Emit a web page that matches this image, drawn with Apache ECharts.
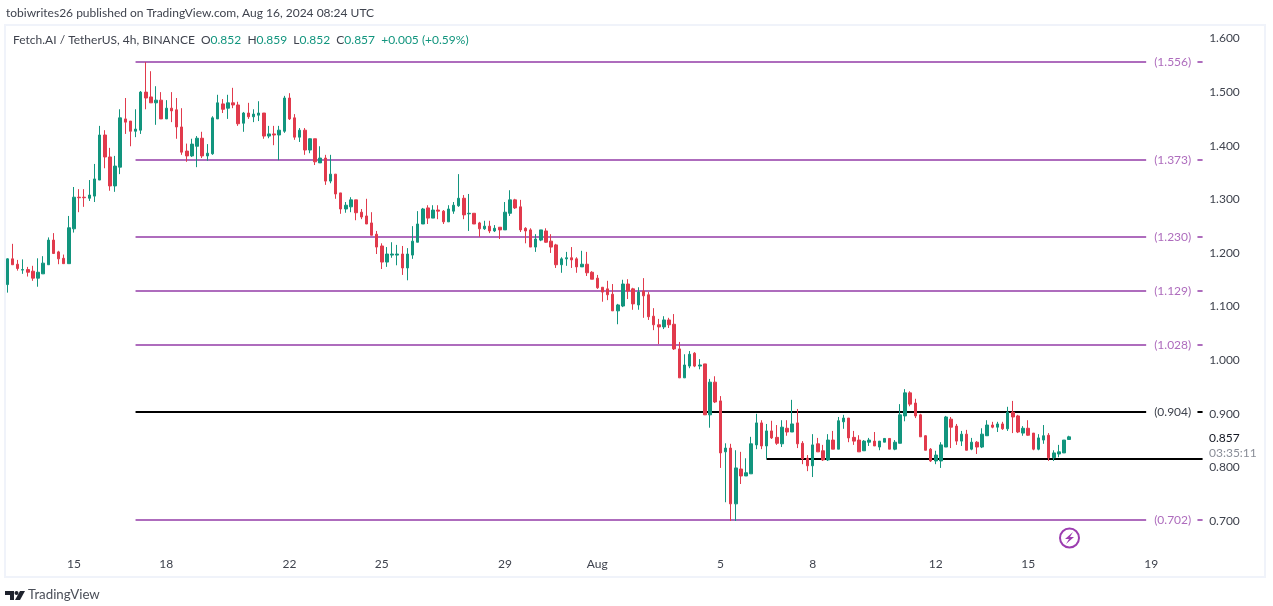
<!DOCTYPE html>
<html>
<head>
<meta charset="utf-8">
<title>FET/USDT 4h</title>
<script src="https://cdn.jsdelivr.net/npm/echarts@6/dist/echarts.min.js"></script>
<style>
  html, body { margin: 0; padding: 0; background: #fff; }
  #chart { width: 1273px; height: 606px; }
</style>
</head>
<body>
<div id="chart"></div>
<script>
// 4h candles
var openPrices = [
  1.141,1.189,1.179,1.168,1.169,1.166,1.153,1.161,1.178,1.224,
  1.202,1.190,1.180,1.245,1.304,1.304,1.302,1.306,1.336,1.420,
  1.379,1.325,1.360,1.450,1.446,1.427,1.429,1.500,1.491,1.480,
  1.485,1.450,1.470,1.467,1.435,1.390,1.381,1.399,1.414,1.381,
  1.385,1.450,1.478,1.470,1.480,1.476,1.442,1.461,1.454,1.457,
  1.461,1.418,1.422,1.420,1.427,1.489,1.452,1.416,1.429,1.392,
  1.413,1.368,1.377,1.334,1.347,1.312,1.282,1.286,1.299,1.276,
  1.269,1.256,1.235,1.213,1.183,1.196,1.196,1.198,1.172,1.196,
  1.220,1.254,1.284,1.265,1.280,1.278,1.258,1.278,1.288,1.302,
  1.273,1.274,1.256,1.245,1.250,1.241,1.248,1.243,1.274,1.299,
  1.286,1.246,1.243,1.211,1.224,1.241,1.222,1.215,1.178,1.189,
  1.191,1.189,1.174,1.179,1.164,1.153,1.136,1.133,1.123,1.092,
  1.101,1.142,1.133,1.103,1.129,1.122,1.082,1.066,1.062,1.075,
  1.067,1.021,0.967,0.989,1.013,0.989,0.993,0.898,0.959,0.924,
  0.829,0.836,0.732,0.797,0.784,0.788,0.842,0.883,0.840,0.868,
  0.856,0.844,0.873,0.866,0.883,0.845,0.817,0.803,0.844,0.831,
  0.814,0.851,0.834,0.885,0.892,0.856,0.851,0.831,0.847,0.849,
  0.838,0.847,0.854,0.834,0.845,0.896,0.939,0.920,0.898,0.859,
  0.834,0.812,0.812,0.838,0.890,0.877,0.849,0.862,0.834,0.847,
  0.838,0.859,0.879,0.875,0.881,0.872,0.903,0.896,0.864,0.873,
  0.864,0.834,0.851,0.860,0.818,0.825,0.827,0.852
];
var closePrices = [
  1.189,1.178,1.171,1.169,1.164,1.153,1.164,1.181,1.224,1.199,
  1.189,1.180,1.247,1.304,1.303,1.303,1.308,1.338,1.420,1.379,
  1.325,1.362,1.452,1.444,1.427,1.431,1.500,1.489,1.480,1.485,
  1.450,1.470,1.465,1.435,1.388,1.381,1.403,1.414,1.381,1.386,
  1.452,1.480,1.468,1.480,1.476,1.441,1.461,1.454,1.459,1.461,
  1.418,1.422,1.420,1.429,1.489,1.450,1.416,1.429,1.392,1.413,
  1.370,1.377,1.334,1.347,1.310,1.282,1.289,1.299,1.275,1.267,
  1.254,1.233,1.211,1.183,1.198,1.198,1.198,1.172,1.198,1.222,
  1.254,1.282,1.265,1.280,1.278,1.258,1.282,1.289,1.302,1.271,
  1.274,1.254,1.245,1.250,1.241,1.246,1.243,1.276,1.299,1.284,
  1.243,1.241,1.211,1.226,1.243,1.220,1.211,1.178,1.189,1.191,
  1.187,1.174,1.179,1.163,1.151,1.135,1.127,1.122,1.092,1.103,
  1.142,1.129,1.105,1.127,1.120,1.081,1.066,1.062,1.075,1.066,
  1.021,0.967,0.991,1.011,0.989,0.991,0.898,0.959,0.922,0.827,
  0.836,0.732,0.799,0.784,0.790,0.844,0.883,0.840,0.868,0.855,
  0.845,0.875,0.866,0.881,0.844,0.816,0.803,0.842,0.829,0.814,
  0.851,0.834,0.887,0.892,0.855,0.849,0.829,0.849,0.851,0.840,
  0.849,0.854,0.834,0.847,0.898,0.939,0.918,0.896,0.857,0.832,
  0.812,0.823,0.842,0.894,0.875,0.849,0.862,0.832,0.847,0.838,
  0.862,0.879,0.875,0.881,0.872,0.903,0.894,0.866,0.873,0.860,
  0.834,0.855,0.859,0.818,0.827,0.829,0.851,0.857
];
var lowPrices = [
  1.126,1.178,1.167,1.161,1.156,1.148,1.137,1.161,1.178,1.198,
  1.179,1.180,1.180,1.238,1.276,1.286,1.297,1.295,1.336,1.358,
  1.316,1.314,1.347,1.422,1.399,1.416,1.422,1.468,1.480,1.439,
  1.450,1.450,1.444,1.413,1.383,1.370,1.379,1.360,1.377,1.372,
  1.383,1.450,1.461,1.450,1.470,1.437,1.426,1.450,1.444,1.446,
  1.413,1.414,1.401,1.373,1.424,1.448,1.411,1.407,1.383,1.386,
  1.364,1.368,1.327,1.330,1.301,1.273,1.275,1.276,1.261,1.263,
  1.254,1.233,1.198,1.170,1.174,1.191,1.177,1.159,1.149,1.189,
  1.220,1.254,1.254,1.265,1.263,1.254,1.258,1.273,1.286,1.263,
  1.241,1.254,1.230,1.243,1.237,1.239,1.226,1.243,1.269,1.282,
  1.239,1.218,1.211,1.202,1.222,1.219,1.200,1.172,1.163,1.176,
  1.172,1.163,1.174,1.157,1.151,1.133,1.109,1.112,1.092,1.067,
  1.099,1.114,1.094,1.094,1.079,1.075,1.056,1.030,1.058,1.060,
  1.019,0.967,0.967,0.985,0.987,0.983,0.898,0.874,0.920,0.799,
  0.735,0.700,0.700,0.769,0.784,0.788,0.834,0.834,0.816,0.853,
  0.842,0.838,0.859,0.866,0.836,0.806,0.793,0.782,0.829,0.812,
  0.812,0.834,0.834,0.872,0.847,0.842,0.829,0.831,0.840,0.840,
  0.832,0.847,0.834,0.832,0.845,0.886,0.914,0.892,0.857,0.832,
  0.810,0.806,0.799,0.838,0.836,0.842,0.840,0.832,0.832,0.825,
  0.836,0.859,0.873,0.866,0.870,0.868,0.864,0.864,0.859,0.859,
  0.832,0.832,0.844,0.812,0.812,0.819,0.827,0.852
];
var highPrices = [
  1.190,1.217,1.187,1.188,1.174,1.176,1.190,1.194,1.229,1.237,
  1.204,1.197,1.269,1.323,1.319,1.319,1.336,1.366,1.437,1.429,
  1.396,1.381,1.468,1.489,1.446,1.468,1.502,1.556,1.539,1.511,
  1.500,1.485,1.500,1.489,1.470,1.404,1.413,1.418,1.426,1.403,
  1.455,1.495,1.487,1.495,1.508,1.482,1.463,1.480,1.468,1.483,
  1.461,1.437,1.437,1.437,1.493,1.498,1.459,1.433,1.433,1.414,
  1.413,1.399,1.383,1.383,1.347,1.312,1.295,1.304,1.299,1.282,
  1.301,1.276,1.241,1.218,1.211,1.220,1.215,1.213,1.209,1.250,
  1.278,1.284,1.289,1.289,1.289,1.280,1.289,1.295,1.347,1.308,
  1.310,1.274,1.258,1.260,1.260,1.252,1.248,1.295,1.317,1.301,
  1.299,1.248,1.246,1.235,1.243,1.246,1.235,1.217,1.192,1.202,
  1.211,1.192,1.204,1.202,1.166,1.159,1.136,1.148,1.142,1.105,
  1.150,1.151,1.135,1.136,1.153,1.127,1.097,1.077,1.082,1.079,
  1.086,1.034,1.011,1.017,1.015,1.002,0.993,0.965,0.970,0.933,
  0.845,0.844,0.832,0.829,0.817,0.857,0.900,0.888,0.881,0.887,
  0.879,0.888,0.888,0.926,0.909,0.849,0.823,0.862,0.855,0.842,
  0.862,0.868,0.894,0.898,0.892,0.868,0.860,0.851,0.855,0.866,
  0.849,0.854,0.854,0.851,0.918,0.946,0.942,0.928,0.900,0.860,
  0.836,0.831,0.847,0.896,0.894,0.881,0.868,0.870,0.855,0.849,
  0.873,0.888,0.885,0.885,0.885,0.913,0.924,0.898,0.877,0.888,
  0.864,0.862,0.879,0.864,0.832,0.842,0.851,0.859
];

// date ticks: candle slot and text
var xTickSlots = [13, 31, 55, 73, 97, 115, 139, 157, 181, 199, 223];
var xTickLabels = ['15', '18', '22', '25', '29', 'Aug', '5', '8', '12', '15', '19'];
var slotCount = 234;

var priceTicks = [0.7, 0.8, 0.9, 1.0, 1.1, 1.2, 1.3, 1.4, 1.5, 1.6];

// fib levels drawn on the chart
var purpleLevels = [1.556, 1.373, 1.230, 1.129, 1.028, 0.702];
var blackLevel = 0.904;
var supportLevel = 0.816;
var lastClose = 0.857;
var countdown = '03:35:11';

var PURPLE = '#ae6cbd';
var TEXT = '#3f434e';
var UP = '#12957e';
var DOWN = '#e13a4c';
var FONT = 'Lato, sans-serif';

var categories = [];
for (var i = 0; i < slotCount; i++) {
    var k = xTickSlots.indexOf(i);
    categories.push(k < 0 ? '' : xTickLabels[k]);
}

var candles = [];
for (var c = 0; c < openPrices.length; c++) {
    candles.push([openPrices[c], closePrices[c], lowPrices[c], highPrices[c]]);
}

function levelLine(value, color, from, to, labelOn) {
    return [{
        coord: [from, value],
        lineStyle: { color: color, width: 2, type: 'solid' },
        label: labelOn ? {
            show: true,
            position: 'end',
            distance: 8,
            formatter: '(' + value.toFixed(3) + ')',
            color: color === '#000000' ? TEXT : PURPLE,
            fontFamily: FONT,
            fontSize: 12
        } : { show: false }
    }, { coord: [to, value] }];
}

var levelLines = [];
purpleLevels.forEach(function (v) {
    levelLines.push(levelLine(v, PURPLE, 25, 222, true));
    levelLines.push(levelLine(v, PURPLE, 232, 233, false));
});
levelLines.push(levelLine(blackLevel, '#000000', 25, 222, true));
levelLines.push(levelLine(blackLevel, '#000000', 232, 233, false));
levelLines.push(levelLine(supportLevel, '#000000', 148, 233, false));

var chart = echarts.init(document.getElementById('chart'), null, { renderer: 'canvas' });

chart.setOption({
    animation: false,
    backgroundColor: '#ffffff',
    textStyle: { fontFamily: FONT },
    title: [{
        left: 1,
        top: 2,
        text: 'tobiwrites26 published on TradingView.com, Aug 16, 2024 08:24 UTC',
        textStyle: { color: TEXT, fontSize: 12, fontWeight: 'normal', fontFamily: FONT }
    }, {
        left: 8,
        top: 29,
        text: '{d|Fetch.AI / TetherUS, 4h, BINANCE}  {d|O}{g|0.852}  {d|H}{g|0.859}  {d|L}{g|0.852}  {d|C}{g|0.857}  {g|+0.005 (+0.59%)}',
        textStyle: {
            fontSize: 12,
            fontWeight: 'normal',
            rich: {
                d: { color: TEXT, fontSize: 12, fontFamily: FONT },
                g: { color: UP, fontSize: 12, fontFamily: FONT }
            }
        }
    }, {
        left: 23,
        top: 583,
        text: 'TradingView',
        textStyle: { color: '#4a4e58', fontSize: 13.3, fontWeight: 'normal', fontFamily: FONT }
    }],
    grid: {
        left: 4.735,
        top: 27.78,
        width: 1200.42,
        height: 520.03,
        containLabel: false
    },
    xAxis: {
        type: 'category',
        data: categories,
        axisLine: { show: false },
        axisTick: { show: false },
        splitLine: { show: false },
        axisLabel: {
            margin: 10,
            color: TEXT,
            fontSize: 12,
            fontFamily: FONT,
            interval: function (idx, val) { return val !== ''; }
        }
    },
    yAxis: {
        type: 'value',
        position: 'right',
        min: 0.65,
        max: 1.62,
        axisLine: { show: false },
        axisTick: { show: false },
        splitLine: { show: false },
        axisLabel: {
            margin: 4,
            padding: [3, 0, 0, 0],
            color: TEXT,
            fontSize: 12,
            fontFamily: FONT,
            customValues: priceTicks,
            formatter: function (v) { return v.toFixed(3); }
        }
    },
    series: [{
        name: 'levels',
        type: 'line',
        data: [],
        silent: true,
        markLine: {
            silent: true,
            symbol: 'none',
            z: 1,
            animation: false,
            data: levelLines
        }
    }, {
        name: 'FETUSDT',
        type: 'candlestick',
        z: 3,
        barWidth: 3,
        data: candles,
        itemStyle: {
            color: UP,
            color0: DOWN,
            borderColor: UP,
            borderColor0: DOWN,
            borderWidth: 1
        }
    }]
});

// last price + countdown sit on the price scale, the rest is page furniture
var lastY = chart.convertToPixel({ yAxisIndex: 0 }, lastClose);
chart.setOption({
    graphic: [
        { type: 'rect', silent: true, z: 0, shape: { x: 5, y: 25, width: 1260, height: 552 },
          style: { fill: 'none', stroke: '#f0f3fa', lineWidth: 2 } },
        { type: 'text', silent: true, x: 1209, y: lastY + 1,
          style: { text: lastClose.toFixed(3), fill: '#131722', font: '12px ' + FONT, textVerticalAlign: 'middle' } },
        { type: 'text', silent: true, x: 1209, y: lastY + 16,
          style: { text: countdown, fill: '#8a8e98', font: '12px ' + FONT, textVerticalAlign: 'middle' } },
        // lightning badge
        { type: 'circle', silent: true, shape: { cx: 1069.5, cy: 538, r: 9.5 },
          style: { fill: 'none', stroke: '#9c3db0', lineWidth: 2 } },
        { type: 'polygon', silent: true,
          shape: { points: [[1073, 532], [1065, 539], [1069, 539], [1066, 544], [1074, 537], [1070, 537]] },
          style: { fill: '#9c3db0' } },
        // TradingView logo
        { type: 'polygon', silent: true,
          shape: { points: [[5, 591], [14, 591], [14, 600], [10, 600], [10, 595], [5, 595]] },
          style: { fill: '#1e222d' } },
        { type: 'circle', silent: true, shape: { cx: 16.5, cy: 593, r: 2 }, style: { fill: '#1e222d' } },
        { type: 'polygon', silent: true,
          shape: { points: [[20, 591], [25, 591], [20, 600], [15, 600]] },
          style: { fill: '#1e222d' } }
    ]
});
</script>
</body>
</html>
